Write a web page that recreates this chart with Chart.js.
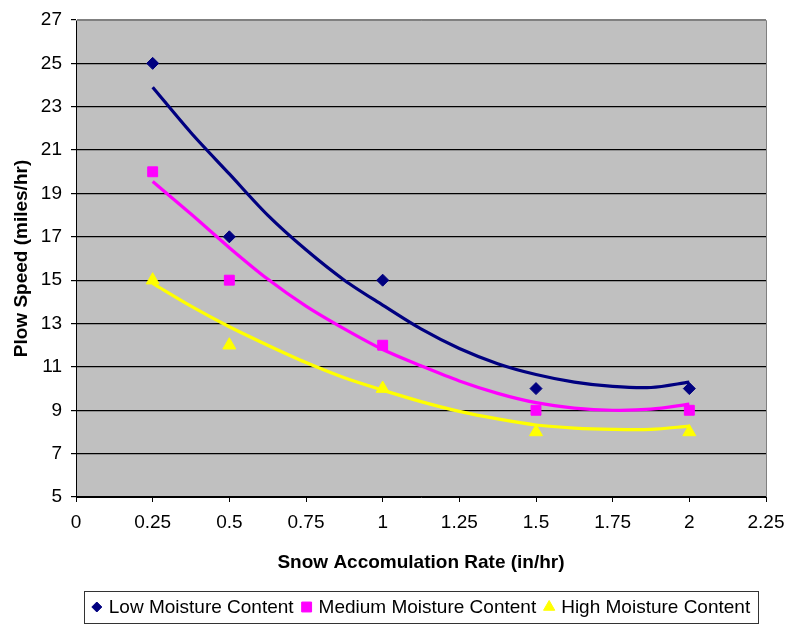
<!DOCTYPE html>
<html>
<head>
<meta charset="utf-8">
<title>Plow Speed vs Snow Accumulation Rate</title>
<script src="https://cdn.jsdelivr.net/npm/chart.js@4/dist/chart.umd.min.js"></script>
<style>
  html, body { margin: 0; padding: 0; background: #ffffff; }
  #wrap { width: 786px; height: 625px; position: relative; }
</style>
</head>
<body>
<div id="wrap"><canvas id="plowChart" width="786" height="625"></canvas></div>
<script>
// Measured plow speeds (miles/hr) at each snow accumulation rate (in/hr)
const rates = [0.25, 0.5, 1, 1.5, 2];
const lowMoisture = [25, 17, 15, 10, 10];
const mediumMoisture = [20, 15, 12, 9, 9];
const highMoisture = [15, 12, 10, 8, 8];

// Trend curves through each series
const trendRates = [0.25, 0.375, 0.5, 0.625, 0.75, 0.875, 1, 1.125, 1.25, 1.375, 1.5, 1.625, 1.75, 1.875, 2];
const lowTrend = [23.9, 21.8, 19.9, 18.0, 16.4, 15.0, 13.85, 12.75, 11.85, 11.15, 10.65, 10.3, 10.1, 10.05, 10.3];
const mediumTrend = [19.55, 18.05, 16.5, 15.05, 13.8, 12.75, 11.8, 11.05, 10.35, 9.78, 9.35, 9.1, 9.0, 9.05, 9.28];
const highTrend = [14.85, 13.8, 12.85, 12.0, 11.2, 10.5, 9.93, 9.4, 8.95, 8.6, 8.32, 8.18, 8.12, 8.12, 8.27];

const seriesNames = ['Low Moisture Content', 'Medium Moisture Content', 'High Moisture Content'];
const xTickLabels = ['0', '0.25', '0.5', '0.75', '1', '1.25', '1.5', '1.75', '2', '2.25'];
const yTickLabels = ['5', '7', '9', '11', '13', '15', '17', '19', '21', '23', '25', '27'];

const FONT = '"Liberation Sans", Arial, Helvetica, sans-serif';
Chart.defaults.font.family = FONT;
Chart.defaults.color = '#000000';

const NAVY = '#000080', MAGENTA = '#FF00FF', YELLOW = '#FFFF00';

const toPoints = (xs, ys) => xs.map((x, i) => ({ x: x, y: ys[i] }));

const markerStyles = [
  { color: NAVY, style: 'rectRot', radius: 6, legendRadius: 5 },
  { color: MAGENTA, style: 'rect', radius: 7, legendRadius: 7 },
  { color: YELLOW, style: 'triangle', radius: 7.5, legendRadius: 6.5 }
];

// gray plot area
const plotBackground = {
  id: 'plotBackground',
  beforeDraw(chart) {
    const { ctx, chartArea: a } = chart;
    ctx.save();
    ctx.fillStyle = '#C0C0C0';
    ctx.fillRect(a.left, a.top, a.right - a.left, a.bottom - a.top);
    ctx.restore();
  }
};

// top and right frame of the plot area
const plotFrame = {
  id: 'plotFrame',
  afterDraw(chart) {
    const { ctx, chartArea: a } = chart;
    ctx.save();
    ctx.strokeStyle = '#808080';
    ctx.lineWidth = 1;
    ctx.beginPath();
    ctx.moveTo(a.left, Math.round(a.top) + 0.5);
    ctx.lineTo(Math.round(a.right) + 0.5, Math.round(a.top) + 0.5);
    ctx.lineTo(Math.round(a.right) + 0.5, a.bottom);
    ctx.stroke();
    ctx.restore();
  }
};

// boxed legend row under the x axis title
const boxedLegend = {
  id: 'boxedLegend',
  afterDraw(chart) {
    const { ctx, chartArea: a } = chart;
    ctx.save();
    ctx.font = '19px ' + FONT;
    const markW = 10, gap = 7, between = 8, padX = 8;
    const widths = seriesNames.map(n => ctx.measureText(n).width);
    let total = between * (seriesNames.length - 1);
    widths.forEach(w => { total += markW + gap + w; });
    const cx = (a.left + a.right) / 2;
    let x = cx - total / 2;
    const top = chart.height - 34, h = 32, cy = top + h / 2;

    ctx.strokeStyle = '#333333';
    ctx.lineWidth = 1;
    ctx.strokeRect(Math.round(x - padX) + 0.5, top + 0.5, Math.round(total + 2 * padX), h);

    seriesNames.forEach((name, i) => {
      const m = markerStyles[i];
      ctx.fillStyle = m.color;
      ctx.strokeStyle = m.color;
      Chart.helpers.drawPoint(ctx, { pointStyle: m.style, radius: m.legendRadius, borderWidth: 1, rotation: 0 }, x + markW / 2, cy);
      ctx.fillStyle = '#000000';
      ctx.textBaseline = 'middle';
      ctx.textAlign = 'left';
      ctx.fillText(name, x + markW + gap, cy + 1);
      x += markW + gap + widths[i] + between;
    });
    ctx.restore();
  }
};

const seriesValues = [lowMoisture, mediumMoisture, highMoisture];
const trendValues = [lowTrend, mediumTrend, highTrend];

const datasets = [];
seriesValues.forEach((vals, i) => {
  const m = markerStyles[i];
  datasets.push({
    label: seriesNames[i],
    data: toPoints(rates, vals),
    showLine: false,
    pointStyle: m.style,
    pointRadius: m.radius,
    pointHoverRadius: m.radius,
    pointBackgroundColor: m.color,
    pointBorderColor: m.color,
    pointBorderWidth: 1
  });
});
trendValues.forEach((vals, i) => {
  datasets.push({
    label: seriesNames[i] + ' trend',
    data: toPoints(trendRates, vals),
    showLine: true,
    borderColor: markerStyles[i].color,
    borderWidth: 3.2,
    pointRadius: 0,
    tension: 0.3,
    fill: false
  });
});

new Chart(document.getElementById('plowChart'), {
  type: 'scatter',
  data: { datasets: datasets },
  options: {
    responsive: false,
    animation: false,
    devicePixelRatio: 1,
    layout: { padding: { top: 20, right: 20, bottom: 48, left: 0 } },
    plugins: {
      legend: { display: false },
      tooltip: { enabled: false }
    },
    scales: {
      x: {
        type: 'linear',
        min: 0,
        max: 2.25,
        afterBuildTicks(scale) {
          scale.ticks = xTickLabels.map(t => ({ value: parseFloat(t) }));
        },
        afterFit(scale) {
          scale.height = 80;
          scale.paddingLeft = 0;
          scale.paddingRight = 0;
        },
        ticks: {
          font: { size: 19 },
          color: '#000000',
          padding: 9,
          maxRotation: 0,
          autoSkip: false,
          callback: (v, i) => xTickLabels[i]
        },
        grid: {
          display: true,
          drawOnChartArea: false,
          drawTicks: true,
          tickLength: 5,
          tickColor: '#000000'
        },
        border: { display: true, color: '#000000', width: 1 },
        title: {
          display: true,
          text: 'Snow Accomulation Rate (in/hr)',
          font: { size: 19, weight: 'bold' },
          color: '#000000',
          padding: { top: 0, bottom: 3 }
        }
      },
      y: {
        type: 'linear',
        min: 5,
        max: 27,
        afterBuildTicks(scale) {
          scale.ticks = yTickLabels.map(t => ({ value: parseFloat(t) }));
        },
        afterFit(scale) {
          scale.width = 76;
          scale.paddingTop = 0;
          scale.paddingBottom = 0;
        },
        ticks: {
          font: { size: 19 },
          color: '#000000',
          padding: 9,
          autoSkip: false,
          callback: (v, i) => yTickLabels[i]
        },
        grid: {
          color: ctx => (ctx.tick && ctx.tick.value === 27 ? '#808080' : '#000000'),
          lineWidth: 1.2,
          tickLength: 5,
          tickColor: '#000000'
        },
        border: { display: true, color: '#000000', width: 1 },
        title: {
          display: true,
          text: 'Plow Speed (miles/hr)',
          font: { size: 19, weight: 'bold' },
          color: '#000000',
          padding: { top: 10, bottom: 0 }
        }
      }
    }
  },
  plugins: [plotBackground, plotFrame, boxedLegend]
});
</script>
</body>
</html>
